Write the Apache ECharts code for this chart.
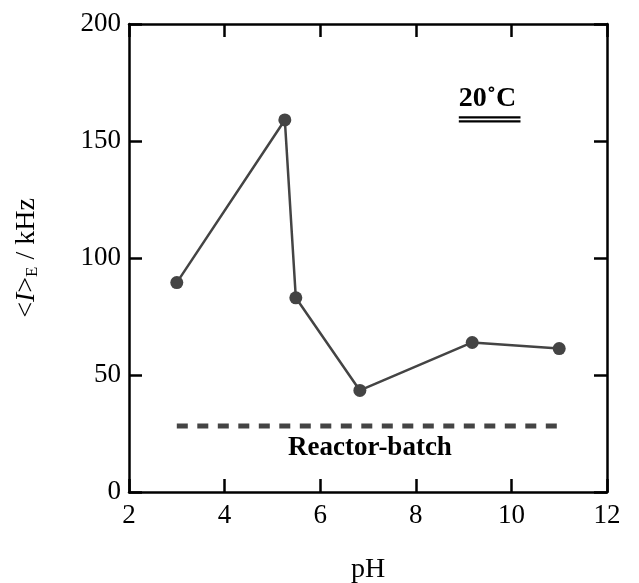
<!DOCTYPE html>
<html><head><meta charset="utf-8">
<script src="https://cdn.jsdelivr.net/npm/echarts@6/dist/echarts.min.js"></script>
<style>html,body{margin:0;padding:0;background:#fff}#c{width:639px;height:583px}</style>
</head><body><div id="c"></div>
<script>
const pH = [3.0, 5.26, 5.49, 6.83, 9.18, 11.0];
const intensity = [89.5, 159, 83, 43.4, 63.9, 61.3];
const batchX = [3.0, 11.0];
const batchY = [28.2, 28.2];
const xTicks = [2, 4, 6, 8, 10, 12];
const yTicks = [0, 50, 100, 150, 200];

const FONT = '"Liberation Serif", "DejaVu Serif", serif';
const chart = echarts.init(document.getElementById('c'), null, {renderer: 'canvas'});
const axisCommon = {
  axisLine: {show: true, onZero: false, lineStyle: {color: '#000', width: 2.5}},
  axisTick: {show: true, inside: true, length: 13, lineStyle: {color: '#000', width: 2.5}},
  splitLine: {show: false}
};
const option = {
  animation: false,
  grid: {left: 129, right: 32, top: 24, bottom: 91, containLabel: false, outerBoundsMode: 'none'},
  xAxis: [
    Object.assign({type: 'value', min: xTicks[0], max: xTicks[xTicks.length-1], interval: 2, position: 'bottom',
      name: 'pH', nameLocation: 'middle', nameGap: 64,
      nameTextStyle: {fontFamily: FONT, fontSize: 28, color: '#000', verticalAlign: 'top'},
      axisLabel: {fontFamily: FONT, fontSize: 27, color: '#000', margin: 10}}, axisCommon),
    Object.assign({type: 'value', min: xTicks[0], max: xTicks[xTicks.length-1], interval: 2, position: 'top',
      axisLabel: {show: false}}, axisCommon)
  ],
  yAxis: [
    Object.assign({type: 'value', min: yTicks[0], max: yTicks[yTicks.length-1], interval: 50, position: 'left',
      name: '{a|<}{i|I}{a|>}{s|E}{a| / kHz}', nameLocation: 'middle', nameGap: 88, nameRotate: 90,
      nameTextStyle: {fontFamily: FONT, fontSize: 28, color: '#000',
        rich: {
          a: {fontFamily: FONT, fontSize: 28, color: '#000'},
          i: {fontFamily: FONT, fontSize: 28, fontStyle: 'italic', color: '#000'},
          s: {fontFamily: FONT, fontSize: 17, color: '#000', verticalAlign: 'bottom', padding: [12, 0, 0, 0]}
        }},
      axisLabel: {fontFamily: FONT, fontSize: 27, color: '#000', margin: 8}}, axisCommon),
    Object.assign({type: 'value', min: yTicks[0], max: yTicks[yTicks.length-1], interval: 50, position: 'right',
      axisLabel: {show: false}}, axisCommon)
  ],
  series: [
    {type: 'line', xAxisIndex: 0, yAxisIndex: 0,
      data: pH.map((x, i) => [x, intensity[i]]),
      symbol: 'circle', symbolSize: 13,
      itemStyle: {color: '#444'}, lineStyle: {color: '#444', width: 2.5}},
    {type: 'line', xAxisIndex: 0, yAxisIndex: 0,
      data: batchX.map((x, i) => [x, batchY[i]]),
      symbol: 'none',
      lineStyle: {color: '#444', width: 5, type: [11, 9.5]}}
  ]
};
chart.setOption(option);

const p1 = chart.convertToPixel({xAxisIndex: 0, yAxisIndex: 0}, [7.04, 18.8]);
const p2 = chart.convertToPixel({xAxisIndex: 0, yAxisIndex: 0}, [9.5, 168]);
const ul1 = chart.convertToPixel({xAxisIndex: 0, yAxisIndex: 0}, [8.90, 159.2]);
const ul2 = chart.convertToPixel({xAxisIndex: 0, yAxisIndex: 0}, [10.19, 159.2]);
chart.setOption({
  graphic: [
    {type: 'text', x: p1[0], y: p1[1], style: {text: 'Reactor-batch', font: 'bold 27px ' + FONT, fill: '#000', textAlign: 'center', textVerticalAlign: 'middle'}},
    {type: 'text', x: p2[0], y: p2[1], style: {text: '20˚C', font: 'bold 28px ' + FONT, fill: '#000', textAlign: 'center', textVerticalAlign: 'middle'}},
    {type: 'line', shape: {x1: ul1[0], y1: ul1[1] - 2, x2: ul2[0], y2: ul2[1] - 2}, style: {stroke: '#000', lineWidth: 2.2}},
    {type: 'line', shape: {x1: ul1[0], y1: ul1[1] + 2, x2: ul2[0], y2: ul2[1] + 2}, style: {stroke: '#000', lineWidth: 2.2}}
  ]
});
</script></body></html>
